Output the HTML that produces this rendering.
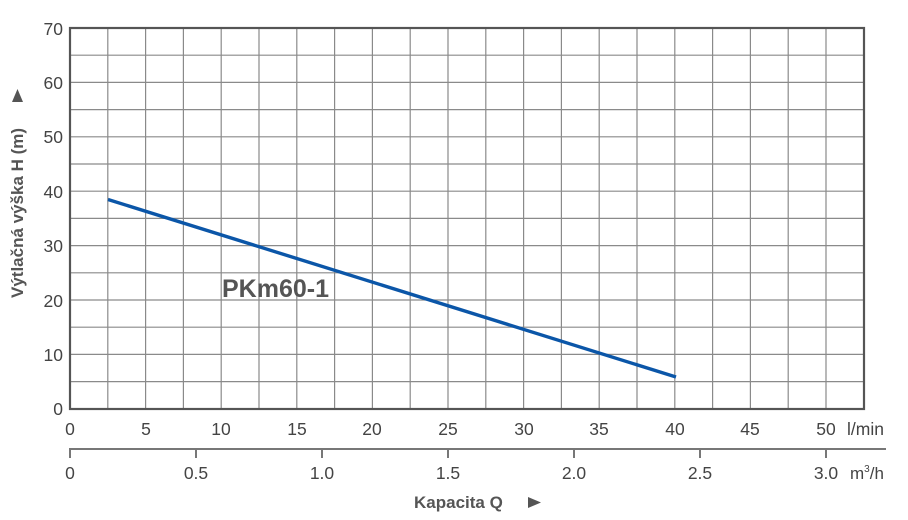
<!DOCTYPE html>
<html><head><meta charset="utf-8"><style>
html,body{margin:0;padding:0;background:#fff;}
svg{display:block;font-family:"Liberation Sans",Arial,sans-serif;}
</style></head><body>
<svg width="908" height="520" viewBox="0 0 908 520" xmlns="http://www.w3.org/2000/svg">
<g stroke="#8a8a8a" stroke-width="1.2">
<line x1="107.8" y1="28" x2="107.8" y2="409"/><line x1="145.6" y1="28" x2="145.6" y2="409"/>
<line x1="183.4" y1="28" x2="183.4" y2="409"/><line x1="221.2" y1="28" x2="221.2" y2="409"/>
<line x1="259" y1="28" x2="259" y2="409"/><line x1="296.8" y1="28" x2="296.8" y2="409"/>
<line x1="334.6" y1="28" x2="334.6" y2="409"/><line x1="372.4" y1="28" x2="372.4" y2="409"/>
<line x1="410.2" y1="28" x2="410.2" y2="409"/><line x1="448" y1="28" x2="448" y2="409"/>
<line x1="485.8" y1="28" x2="485.8" y2="409"/><line x1="523.6" y1="28" x2="523.6" y2="409"/>
<line x1="561.4" y1="28" x2="561.4" y2="409"/><line x1="599.2" y1="28" x2="599.2" y2="409"/>
<line x1="637" y1="28" x2="637" y2="409"/><line x1="674.8" y1="28" x2="674.8" y2="409"/>
<line x1="712.6" y1="28" x2="712.6" y2="409"/><line x1="750.4" y1="28" x2="750.4" y2="409"/>
<line x1="788.2" y1="28" x2="788.2" y2="409"/><line x1="826" y1="28" x2="826" y2="409"/>
<line x1="70" y1="55.2" x2="864" y2="55.2"/><line x1="70" y1="82.4" x2="864" y2="82.4"/>
<line x1="70" y1="109.6" x2="864" y2="109.6"/><line x1="70" y1="136.8" x2="864" y2="136.8"/>
<line x1="70" y1="164" x2="864" y2="164"/><line x1="70" y1="191.2" x2="864" y2="191.2"/>
<line x1="70" y1="218.4" x2="864" y2="218.4"/><line x1="70" y1="245.6" x2="864" y2="245.6"/>
<line x1="70" y1="272.8" x2="864" y2="272.8"/><line x1="70" y1="300" x2="864" y2="300"/>
<line x1="70" y1="327.2" x2="864" y2="327.2"/><line x1="70" y1="354.4" x2="864" y2="354.4"/>
<line x1="70" y1="381.6" x2="864" y2="381.6"/>
</g>
<rect x="70" y="28" width="794" height="381" fill="none" stroke="#555" stroke-width="2.2"/>
<line x1="108" y1="199.5" x2="676" y2="377" stroke="#0b56a8" stroke-width="3.4"/>
<text x="222" y="297" font-size="25" font-weight="bold" fill="#555">PKm60-1</text>
<g font-size="17.5" fill="#444" text-anchor="end">
<text x="63" y="35">70</text><text x="63" y="89">60</text><text x="63" y="143">50</text>
<text x="63" y="198">40</text><text x="63" y="252">30</text><text x="63" y="307">20</text>
<text x="63" y="361">10</text><text x="63" y="415">0</text>
</g>
<g font-size="17.5" fill="#444" text-anchor="middle">
<text x="70" y="435">0</text><text x="146" y="435">5</text><text x="221" y="435">10</text>
<text x="297" y="435">15</text><text x="372" y="435">20</text><text x="448" y="435">25</text>
<text x="524" y="435">30</text><text x="599" y="435">35</text><text x="675" y="435">40</text>
<text x="750" y="435">45</text><text x="826" y="435">50</text>
</g>
<text x="847" y="435" font-size="17.5" fill="#444">l/min</text>
<g stroke="#777" stroke-width="2" fill="none">
<line x1="70" y1="449" x2="886" y2="449"/>
<line x1="70" y1="448" x2="70" y2="458"/><line x1="196" y1="448" x2="196" y2="458"/>
<line x1="322" y1="448" x2="322" y2="458"/><line x1="448" y1="448" x2="448" y2="458"/>
<line x1="574" y1="448" x2="574" y2="458"/><line x1="700" y1="448" x2="700" y2="458"/>
<line x1="826" y1="448" x2="826" y2="458"/>
</g>
<g font-size="17.5" fill="#444" text-anchor="middle">
<text x="70" y="479">0</text><text x="196" y="479">0.5</text><text x="322" y="479">1.0</text>
<text x="448" y="479">1.5</text><text x="574" y="479">2.0</text><text x="700" y="479">2.5</text>
<text x="826" y="479">3.0</text>
</g>
<text x="850" y="479" font-size="17" fill="#444">m<tspan font-size="10" dy="-7">3</tspan><tspan dy="7">/h</tspan></text>
<text x="414" y="508" font-size="17" font-weight="bold" fill="#555">Kapacita Q</text>
<path d="M528 497 L541 502.5 L528 508 Z" fill="#555"/>
<text transform="translate(23,298) rotate(-90)" font-size="17" font-weight="bold" fill="#555">Výtlačná výška H (m)</text>
<path d="M12 102 L17.5 89 L23 102 Z" fill="#555"/>
</svg>
</body></html>
